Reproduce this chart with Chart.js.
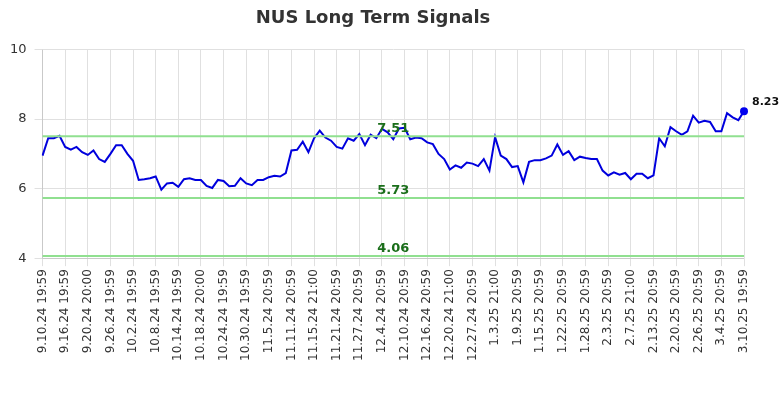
<!DOCTYPE html>
<html><head><meta charset="utf-8">
<script src="https://cdn.jsdelivr.net/npm/chart.js@4"></script>
<style>body{margin:0;background:#fff}#w{width:784px;height:400px}</style>
</head><body><div id="w"><canvas id="c"></canvas></div>
<script>
const tickLabels=["9.10.24 19:59","9.16.24 19:59","9.20.24 20:00","9.26.24 19:59","10.2.24 19:59","10.8.24 19:59","10.14.24 19:59","10.18.24 20:00","10.24.24 19:59","10.30.24 19:59","11.5.24 20:59","11.11.24 20:59","11.15.24 21:00","11.21.24 20:59","11.27.24 20:59","12.4.24 20:59","12.10.24 20:59","12.16.24 20:59","12.20.24 21:00","12.27.24 20:59","1.3.25 21:00","1.9.25 20:59","1.15.25 20:59","1.22.25 20:59","1.28.25 20:59","2.3.25 20:59","2.7.25 21:00","2.13.25 20:59","2.20.25 20:59","2.26.25 20:59","3.4.25 20:59","3.10.25 19:59"];
const prices=[6.95,7.45,7.45,7.52,7.2,7.12,7.2,7.05,6.97,7.1,6.85,6.77,7.0,7.25,7.25,7.0,6.8,6.25,6.27,6.3,6.35,5.97,6.15,6.17,6.05,6.27,6.3,6.25,6.25,6.08,6.02,6.25,6.22,6.07,6.08,6.3,6.15,6.1,6.25,6.25,6.33,6.37,6.35,6.45,7.1,7.12,7.35,7.05,7.45,7.67,7.47,7.38,7.2,7.15,7.45,7.38,7.57,7.25,7.55,7.45,7.72,7.62,7.42,7.73,7.75,7.42,7.47,7.45,7.33,7.28,7.0,6.85,6.55,6.67,6.6,6.75,6.72,6.65,6.85,6.52,7.48,6.95,6.85,6.62,6.65,6.18,6.77,6.82,6.82,6.87,6.95,7.27,6.97,7.08,6.82,6.92,6.88,6.85,6.85,6.52,6.38,6.47,6.4,6.45,6.27,6.43,6.43,6.3,6.38,7.45,7.22,7.77,7.65,7.55,7.65,8.1,7.9,7.95,7.92,7.65,7.65,8.17,8.05,7.97,8.23];
const signalLevels=[7.51,5.73,4.06];
const labelStep=4;
const labels=prices.map((_,i)=>i%labelStep===0?(tickLabels[i/labelStep]||''):'');
const levelsPlugin={id:'lv',afterDatasetsDraw(ch){const {ctx,chartArea:a,scales:{x,y}}=ch;ctx.save();
signalLevels.forEach(v=>{const py=y.getPixelForValue(v);ctx.strokeStyle='#90e090';ctx.lineWidth=2;ctx.beginPath();ctx.moveTo(a.left,py);ctx.lineTo(a.right,py);ctx.stroke();
ctx.fillStyle='#1a6e1a';ctx.font='bold 13px "DejaVu Sans"';ctx.textAlign='center';ctx.textBaseline='bottom';ctx.fillText(v.toFixed(2),(a.left+a.right)/2,py-1);});
const n=prices.length-1,px=x.getPixelForValue(n),py=y.getPixelForValue(prices[n]);
ctx.fillStyle='#0000ee';ctx.beginPath();ctx.arc(px,py,4,0,Math.PI*2);ctx.fill();
ctx.fillStyle='#111';ctx.font='bold 11px "DejaVu Sans"';ctx.textAlign='left';ctx.textBaseline='bottom';ctx.fillText(prices[n].toFixed(2),px+8,py-3);
ctx.restore();}};
new Chart(document.getElementById('c'),{type:'line',data:{labels,datasets:[{data:prices,borderColor:'#0000dd',borderWidth:2,pointRadius:0,tension:0}]},
options:{responsive:true,maintainAspectRatio:false,animation:false,layout:{padding:{right:40,left:2,bottom:36}},
plugins:{legend:{display:false},tooltip:{enabled:false},title:{display:true,text:'NUS Long Term Signals',color:'#333',font:{size:18,weight:'bold',family:'"DejaVu Sans"'},padding:{top:8,bottom:20}}},
scales:{x:{grid:{color:'#e0e0e0'},ticks:{autoSkip:false,maxRotation:90,minRotation:90,color:'#333',font:{size:12,family:'"DejaVu Sans"'},callback:(v)=>labels[v]},afterBuildTicks(s){s.ticks=s.ticks.filter(t=>labels[t.value]!=='');}},
y:{min:4,max:10,grid:{color:'#e0e0e0'},ticks:{stepSize:2,padding:8,color:'#333',font:{size:13,family:'"DejaVu Sans"'}}}}},plugins:[levelsPlugin]});
</script></body></html>
